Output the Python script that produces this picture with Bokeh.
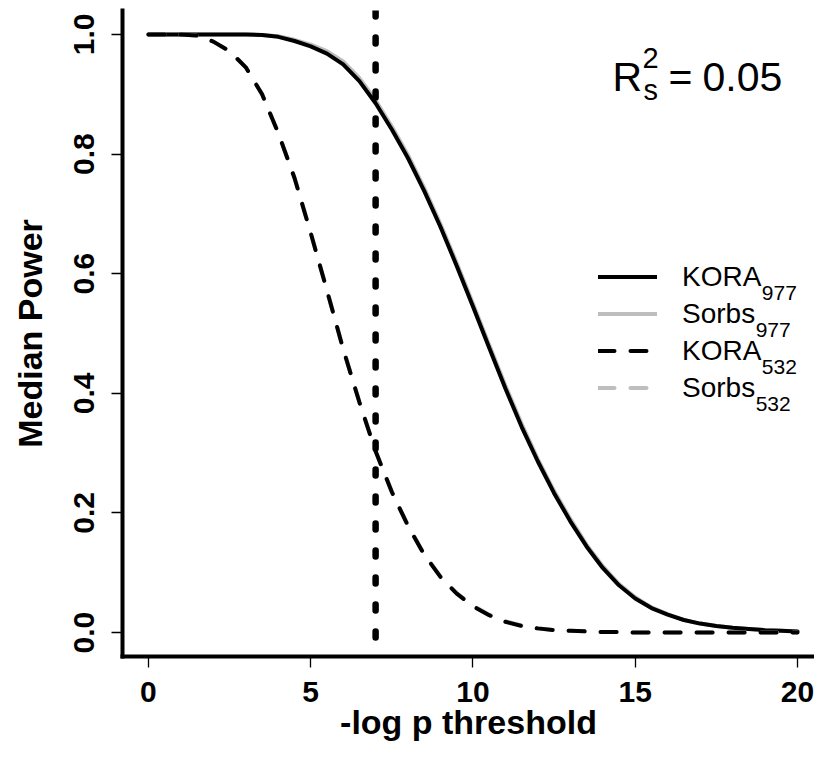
from bokeh.plotting import figure
from bokeh.models import (Range1d, FixedTicker, PrintfTickFormatter, Span, Label,
                          Legend, LegendItem, ColumnDataSource)
from bokeh.embed import file_html
from bokeh.resources import INLINE

# ---------------- data ----------------
x_thresh = [0.0, 0.5, 1.0, 1.5, 2.0, 2.5, 3.0, 3.5, 4.0, 4.5, 5.0, 5.5, 6.0, 6.5,
            7.0, 7.5, 8.0, 8.5, 9.0, 9.5, 10.0, 10.5, 11.0, 11.5, 12.0, 12.5, 13.0,
            13.5, 14.0, 14.5, 15.0, 15.5, 16.0, 16.5, 17.0, 17.5, 18.0, 18.5, 19.0,
            19.5, 20.0]

kora_977 = [1.000, 1.000, 1.000, 1.000, 1.000, 1.000, 1.000, 0.999, 0.996, 0.989,
            0.980, 0.968, 0.950, 0.922, 0.885, 0.841, 0.793, 0.738, 0.678, 0.613,
            0.545, 0.476, 0.408, 0.344, 0.286, 0.233, 0.186, 0.144, 0.108, 0.079,
            0.057, 0.041, 0.030, 0.021, 0.015, 0.011, 0.008, 0.006, 0.004, 0.003,
            0.002]

sorbs_977 = [1.000, 1.000, 1.000, 1.000, 1.000, 1.000, 1.000, 0.999, 0.997, 0.991,
             0.983, 0.972, 0.955, 0.927, 0.890, 0.846, 0.798, 0.743, 0.683, 0.618,
             0.550, 0.481, 0.413, 0.349, 0.290, 0.237, 0.190, 0.147, 0.111, 0.081,
             0.059, 0.042, 0.031, 0.021, 0.015, 0.011, 0.008, 0.006, 0.004, 0.003,
             0.002]

kora_532 = [1.000, 1.000, 1.000, 0.998, 0.988, 0.972, 0.945, 0.900, 0.835, 0.760,
            0.668, 0.572, 0.474, 0.385, 0.303, 0.235, 0.178, 0.130, 0.093, 0.065,
            0.044, 0.029, 0.018, 0.011, 0.007, 0.004, 0.003, 0.002, 0.001, 0.001,
            0.000, 0.000, 0.000, 0.000, 0.000, 0.000, 0.000, 0.000, 0.000, 0.000,
            0.000]

sorbs_532 = [1.000, 1.000, 1.000, 0.998, 0.988, 0.972, 0.945, 0.901, 0.836, 0.761,
             0.669, 0.573, 0.475, 0.386, 0.304, 0.236, 0.179, 0.131, 0.094, 0.066,
             0.045, 0.030, 0.019, 0.012, 0.007, 0.004, 0.003, 0.002, 0.001, 0.001,
             0.000, 0.000, 0.000, 0.000, 0.000, 0.000, 0.000, 0.000, 0.000, 0.000,
             0.000]

series_names = ["KORA", "Sorbs", "KORA", "Sorbs"]
series_subs = ["977", "977", "532", "532"]

x_ticks = [0, 5, 10, 15, 20]
y_ticks = [0.0, 0.2, 0.4, 0.6, 0.8, 1.0]
threshold = 7
r2_text = "0.05"

x_label = "-log p threshold"
y_label = "Median Power"

# ---------------- layout constants ----------------
FIG_W, FIG_H = 814, 744
FRAME_L, FRAME_T = 122, 10
FRAME_W = FIG_W - FRAME_L
FRAME_H = 646
X0, X1 = -0.8, -0.8 + FRAME_W / 32.45
Y0, Y1 = -0.04, 1.04
FONT = "Liberation Sans"
GRAY = "#bebebe"


def dx(px):
    return X0 + (px - FRAME_L) * (X1 - X0) / FRAME_W


def dy(py):
    return Y1 - (py - FRAME_T) * (Y1 - Y0) / FRAME_H


p = figure(width=FIG_W, height=FIG_H, x_range=Range1d(X0, X1), y_range=Range1d(Y0, Y1),
           output_backend="svg", toolbar_location=None, title=None,
           min_border_left=FRAME_L, min_border_right=0, min_border_top=FRAME_T,
           min_border_bottom=FIG_H - FRAME_T - FRAME_H)
p.background_fill_color = "white"
p.border_fill_color = "white"
p.outline_line_color = None
p.xgrid.visible = False
p.ygrid.visible = False

p.xaxis.ticker = FixedTicker(ticks=x_ticks)
p.yaxis.ticker = FixedTicker(ticks=y_ticks)
p.yaxis.formatter = PrintfTickFormatter(format="%.1f")
p.xaxis.axis_label = x_label
p.yaxis.axis_label = y_label
for ax in (p.xaxis[0], p.yaxis[0]):
    ax.axis_line_width = 4
    ax.axis_line_color = "black"
    ax.axis_line_cap = "square"
    ax.major_tick_line_width = 1.3
    ax.major_tick_line_color = "black"
    ax.major_tick_out = 11
    ax.major_tick_in = 0
    ax.minor_tick_line_color = None
    ax.major_label_text_font = FONT
    ax.major_label_text_font_style = "bold"
    ax.major_label_text_font_size = "30px"
    ax.major_label_text_color = "black"
    ax.axis_label_text_font = FONT
    ax.axis_label_text_font_style = "bold"
    ax.axis_label_text_font_size = "34px"
    ax.axis_label_text_color = "black"
p.xaxis.major_label_standoff = 14
p.xaxis.axis_label_standoff = -2
p.yaxis.major_label_standoff = 17
p.yaxis.major_label_orientation = "vertical"
p.yaxis.axis_label_standoff = 23

src = ColumnDataSource(dict(x=x_thresh, k977=kora_977, s977=sorbs_977,
                            k532=kora_532, s532=sorbs_532))

r_s977 = p.line("x", "s977", source=src, line_color=GRAY, line_width=4, line_cap="round")
r_k977 = p.line("x", "k977", source=src, line_color="black", line_width=4, line_cap="round")
r_s532 = p.line("x", "s532", source=src, line_color=GRAY, line_width=4,
                line_dash="16 16", line_cap="round")
r_k532 = p.line("x", "k532", source=src, line_color="black", line_width=4,
                line_dash="16 16", line_cap="round")

p.add_layout(Span(location=threshold, dimension="height", line_color="black",
                  line_width=6.5, line_dash="6 21", line_cap="round"))

# ---------------- legend ----------------
renderers = [r_k977, r_s977, r_k532, r_s532]
LEG_LEFT, LEG_TOP, ROW_H = 598, 258, 37
legend = Legend(items=[LegendItem(label=n, renderers=[r]) for n, r in zip(series_names, renderers)],
                location=(LEG_LEFT - FRAME_L, FRAME_H - (LEG_TOP - FRAME_T) - 4 * ROW_H),
                orientation="vertical", padding=0, margin=0, spacing=0,
                glyph_width=59, glyph_height=ROW_H, label_height=ROW_H,
                label_standoff=25, label_text_font=FONT, label_text_font_size="28px",
                label_text_color="black", border_line_color=None,
                background_fill_alpha=0)
p.add_layout(legend)

name_width = {"KORA": (0.667 + 0.778 + 0.722 + 0.667) * 28,
              "Sorbs": (0.667 + 0.556 + 0.333 + 0.556 + 0.5) * 28}
text_origin = LEG_LEFT + 59 + 25
for i, (n, s) in enumerate(zip(series_names, series_subs)):
    row_c = LEG_TOP + ROW_H * (i + 0.5)
    p.add_layout(Label(x=dx(text_origin + name_width[n]), y=dy(row_c + 15.5), text=s,
                       text_font=FONT, text_font_size="21px", text_color="black",
                       text_baseline="alphabetic", text_align="left"))

# ---------------- R_s^2 = 0.05 ----------------
big = dict(text_font=FONT, text_color="black", text_baseline="alphabetic", text_align="left")
p.add_layout(Label(x=dx(612), y=dy(76), text="R", text_font_size="41px", **big))
p.add_layout(Label(x=dx(642), y=dy(57), text="2", text_font_size="29px", **big))
p.add_layout(Label(x=dx(643), y=dy(89), text="s", text_font_size="29px", **big))
p.add_layout(Label(x=dx(668), y=dy(76), text="=", text_font_size="41px", **big))
p.add_layout(Label(x=dx(702), y=dy(76), text=r2_text, text_font_size="41px", **big))

open("out.html", "w").write(file_html(p, INLINE))
